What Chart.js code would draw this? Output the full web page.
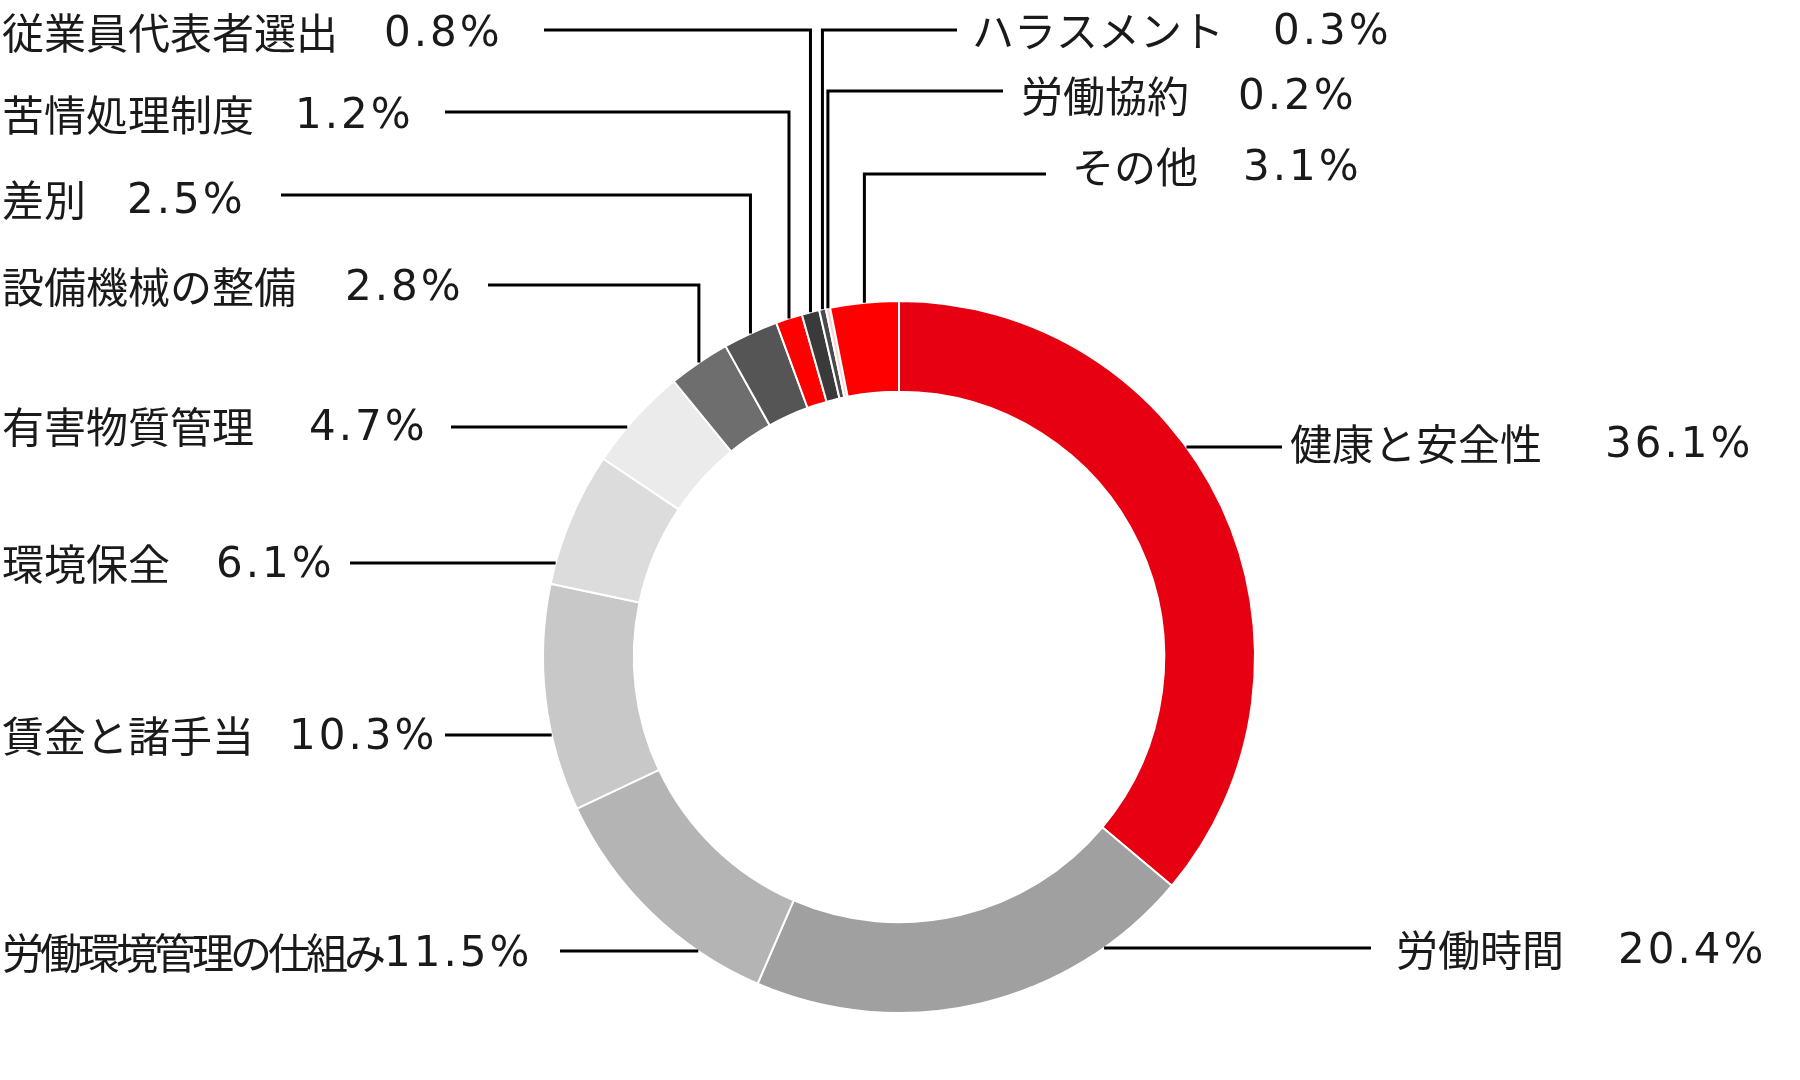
<!DOCTYPE html>
<html lang="ja">
<head>
<meta charset="utf-8">
<title>内訳</title>
<script src="https://cdn.jsdelivr.net/npm/chart.js@4.4.1/dist/chart.umd.min.js"></script>
<style>
  html, body { margin: 0; padding: 0; background: #fff; }
  #wrap { width: 1800px; height: 1080px; }
</style>
</head>
<body>
<div id="wrap"><canvas id="donut" width="1800" height="1080"></canvas></div>
<script>
// data
const categories = ['健康と安全性', '労働時間', '労働環境管理の仕組み', '賃金と諸手当', '環境保全', '有害物質管理',
    '設備機械の整備', '差別', '苦情処理制度', '従業員代表者選出', 'ハラスメント', '労働協約', 'その他'];
const shares = [36.1, 20.4, 11.5, 10.3, 6.1, 4.7, 2.8, 2.5, 1.2, 0.8, 0.3, 0.2, 3.1];

// slice colours, same order
const sliceColors = ['#e60012', '#a0a0a0', '#b4b4b4', '#c8c8c8', '#dcdcdc', '#ebebeb',
    '#6e6e6e', '#555555', '#ff0000', '#3a3a3a', '#4a4a4a', '#f6d4d4', '#ff0000'];

// label placement: text x, text y, gap before %, line start x, line y, kind, name spacing
const labelLayout = [
    { tx: 1290, ty: 444, gap: 63, lx: 1282, ly: 447, kind: 'edge' },
    { tx: 1396, ty: 950, gap: 54, lx: 1371, ly: 948, kind: 'edge' },
    { tx: 2, ty: 953, gap: 2, lx: 560, ly: 951, kind: 'edge', ns: -4 },
    { tx: 2, ty: 736, gap: 35, lx: 445, ly: 735, kind: 'edge' },
    { tx: 2, ty: 564, gap: 46, lx: 350, ly: 563, kind: 'edge' },
    { tx: 2, ty: 427, gap: 55, lx: 451, ly: 427, kind: 'edge' },
    { tx: 2, ty: 287, gap: 49, lx: 488, ly: 285, kind: 'elbow' },
    { tx: 2, ty: 200, gap: 41, lx: 281, ly: 195, kind: 'elbow' },
    { tx: 2, ty: 115, gap: 41, lx: 445, ly: 112, kind: 'elbow' },
    { tx: 2, ty: 33, gap: 46, lx: 544, ly: 30, kind: 'elbow' },
    { tx: 972, ty: 31, gap: 49, lx: 957, ly: 30, kind: 'elbow' },
    { tx: 1021, ty: 96, gap: 49, lx: 1003, ly: 91, kind: 'elbow' },
    { tx: 1072, ty: 167, gap: 45, lx: 1046, ly: 174, kind: 'elbow' }
];

const nameFont = '42px "Noto Sans CJK JP"';
const pctFont = '42px "DejaVu Sans"';

const leaderLabels = {
    id: 'leaderLabels',
    afterDraw(chart) {
        const ctx = chart.ctx;
        const meta = chart.getDatasetMeta(0);
        ctx.save();
        ctx.strokeStyle = '#000';
        ctx.lineWidth = 3;
        ctx.fillStyle = '#1a1a1a';
        ctx.textBaseline = 'middle';
        ctx.textAlign = 'left';

        meta.data.forEach(function(arc, i) {
            const p = arc.getProps(['x', 'y', 'startAngle', 'endAngle', 'outerRadius'], true);
            const L = labelLayout[i];
            ctx.beginPath();
            if (L.kind === 'elbow') {
                // horizontal to the slice middle, then down onto the ring
                const mid = (p.startAngle + p.endAngle) / 2;
                const ax = p.x + Math.cos(mid) * p.outerRadius;
                const ay = p.y + Math.sin(mid) * p.outerRadius;
                ctx.moveTo(L.lx, L.ly);
                ctx.lineTo(ax, L.ly);
                ctx.lineTo(ax, ay);
            } else {
                // straight line that stops at the outer edge
                const dy = L.ly - p.y;
                const dir = L.lx > p.x ? 1 : -1;
                const ex = p.x + dir * Math.sqrt(Math.max(p.outerRadius * p.outerRadius - dy * dy, 0));
                ctx.moveTo(L.lx, L.ly);
                ctx.lineTo(ex, L.ly);
            }
            ctx.stroke();

            ctx.font = nameFont;
            ctx.letterSpacing = (L.ns || 0) + 'px';
            ctx.fillText(categories[i], L.tx, L.ty);
            const w = ctx.measureText(categories[i]).width;
            ctx.font = pctFont;
            ctx.letterSpacing = '3px';
            ctx.fillText(shares[i].toFixed(1) + '%', L.tx + w + L.gap, L.ty + 2);
        });
        ctx.restore();
    }
};

new Chart(document.getElementById('donut'), {
    type: 'doughnut',
    data: {
        labels: categories,
        datasets: [{
            data: shares,
            backgroundColor: sliceColors,
            borderColor: '#ffffff',
            borderWidth: 2
        }]
    },
    options: {
        responsive: false,
        devicePixelRatio: 1,
        animation: false,
        events: [],
        radius: 356,
        cutout: '74.5%',
        layout: { padding: { left: 0, right: 2, top: 234, bottom: 0 } },
        plugins: {
            legend: { display: false },
            tooltip: { enabled: false }
        }
    },
    plugins: [leaderLabels]
});
</script>
</body>
</html>
